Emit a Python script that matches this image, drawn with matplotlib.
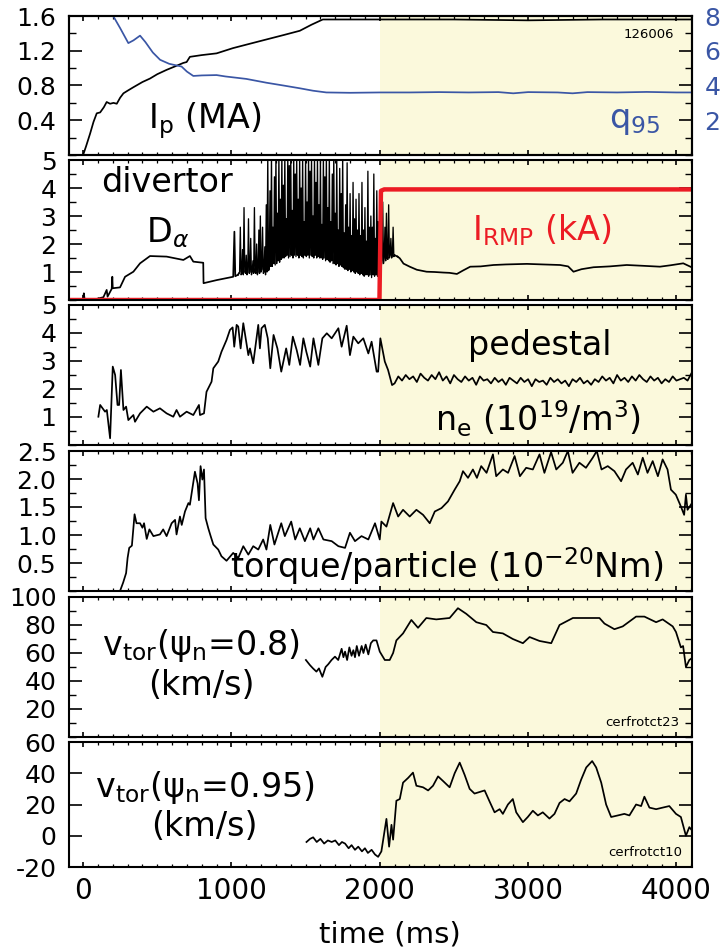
import numpy as np
import matplotlib.pyplot as plt
from matplotlib.ticker import MultipleLocator

# ---- data (time in ms) ----
ip_t = [-95, 0, 20, 47, 70, 92, 115, 140, 159, 182, 205, 227, 250, 272, 300, 339, 400,
        451, 500, 563, 620, 676, 698, 720, 760, 800, 900, 1010, 1100, 1236, 1350, 1461,
        1540, 1616, 1700, 2000, 2500, 3000, 3500, 4100]
ip = [0, 0, 0.1, 0.245, 0.38, 0.48, 0.49, 0.55, 0.61, 0.59, 0.6, 0.59, 0.66, 0.71, 0.74,
      0.78, 0.84, 0.88, 0.93, 0.98, 1.02, 1.06, 1.07, 1.13, 1.14, 1.15, 1.17, 1.23, 1.27,
      1.33, 1.38, 1.43, 1.5, 1.56, 1.56, 1.56, 1.56, 1.55, 1.56, 1.56]

q95_t = [150, 203, 250, 305, 340, 384, 420, 470, 519, 580, 664, 700, 743, 800, 900, 960,
         1010, 1100, 1236, 1350, 1461, 1550, 1640, 1800, 2000, 2200, 2400, 2600, 2800,
         2900, 3000, 3200, 3300, 3400, 3600, 3800, 4000, 4100]
q95 = [9.0, 8.0, 7.3, 6.44, 6.6, 6.87, 6.5, 5.9, 5.48, 5.25, 5.09, 4.8, 4.55, 4.58, 4.6,
       4.52, 4.47, 4.38, 4.16, 4.0, 3.84, 3.7, 3.6, 3.58, 3.6, 3.6, 3.62, 3.6, 3.62,
       3.55, 3.62, 3.6, 3.55, 3.62, 3.6, 3.63, 3.6, 3.6]

dalpha_early_t = [-95, 0, 5, 10, 92, 137, 159, 165, 193, 197, 200, 249, 283, 339, 384,
                  451, 563, 676, 720, 743, 810, 812, 900, 1012, 1020, 1026, 1044]
dalpha_early = [0.02, 0.02, 0.24, 0.03, 0.04, 0.1, 0.36, 0.12, 0.4, 0.83, 0.42, 0.45,
                0.83, 1.01, 1.31, 1.57, 1.55, 1.43, 1.57, 1.37, 1.33, 0.6, 0.71, 0.83,
                2.44, 0.85, 0.9]
# ELM phase, 5 ms sampling from 1050 to 2100 ms
dalpha_elm = [
    0.95, 1.0, 2.6, 0.9, 0.95, 1.8, 0.9, 3.3, 1.0, 0.95, 1.6, 0.9, 1.0, 2.9, 0.95, 1.0, 2.2, 0.9, 1.0, 1.4,
    0.95, 3.3, 1.0, 0.95, 2.0, 0.9, 1.0, 2.5, 0.95, 3.0, 1.0, 1.1, 2.6, 0.95, 1.0, 1.9, 0.9, 3.4, 1.0, 5.2,
    1.05, 1.1, 3.9, 1.2, 5.2, 1.2, 2.6, 1.3, 4.4, 1.25, 5.2, 1.3, 3.1, 1.4, 5.2, 1.35, 3.6, 1.45, 5.2, 1.5,
    4.1, 1.5, 5.2, 1.55, 2.9, 1.6, 5.2, 1.5, 4.8, 1.55, 5.2, 1.6, 3.2, 1.5, 5.2, 1.6, 4.5, 1.55, 5.2, 1.6,
    3.6, 1.5, 5.2, 1.6, 4.0, 1.55, 5.2, 1.5, 2.8, 1.6, 5.2, 1.55, 3.5, 1.6, 5.2, 1.5, 4.6, 1.6, 5.2, 1.55,
    3.0, 1.5, 5.2, 1.6, 4.2, 1.5, 5.2, 1.55, 3.4, 1.5, 5.2, 1.5, 2.7, 1.45, 5.2, 1.5, 4.4, 1.4, 5.2, 1.45,
    3.3, 1.4, 5.2, 1.35, 2.8, 1.4, 4.5, 1.3, 5.2, 1.3, 3.1, 1.25, 5.2, 1.3, 2.5, 1.2, 4.7, 1.25, 3.8, 1.2,
    5.2, 1.15, 2.4, 1.1, 3.4, 1.1, 4.9, 1.05, 2.6, 1.1, 3.8, 1.0, 2.3, 1.05, 4.2, 1.0, 2.9, 0.95, 3.6, 1.0,
    2.5, 0.95, 3.8, 0.9, 2.3, 0.95, 4.2, 0.9, 2.5, 0.85, 3.3, 0.9, 2.1, 0.9, 4.6, 0.85, 2.6, 0.9, 3.0, 0.8,
    2.6, 0.9, 4.5, 0.85, 2.2, 0.9, 3.9, 0.85, 2.8, 0.9, 1.3, 2.7, 1.2, 1.4, 3.5, 1.3, 1.5, 2.6, 1.4, 3.1,
    1.5, 1.45, 3.4, 1.5, 1.6, 2.2, 1.5, 1.6, 2.6, 1.55, 1.6]
dalpha_late_t = [2120, 2135, 2160, 2202, 2250, 2316, 2370, 2430, 2470, 2520, 2560, 2610,
                 2680, 2767, 2850, 2992, 3100, 3216, 3270, 3306, 3360, 3441, 3550, 3665,
                 3780, 3889, 3960, 4046, 4102]
dalpha_late = [1.55, 1.49, 1.3, 1.19, 1.08, 1.01, 1.0, 0.98, 0.97, 0.93, 1.05, 1.19,
               1.2, 1.25, 1.27, 1.29, 1.27, 1.25, 1.2, 1.01, 1.1, 1.17, 1.2, 1.25, 1.22,
               1.19, 1.24, 1.31, 1.17]

irmp_t = [-95, 1998, 2008, 2030, 4105]
irmp = [0, 0, 3.9, 3.95, 3.95]

ne_early_t = [103, 115, 148, 160, 182, 200, 216, 232, 243, 255, 272, 290, 305, 339, 350,
              384, 429, 474, 518, 563, 608, 630, 653, 698, 743, 781, 788, 815, 832, 866,
              878, 911, 933, 967, 990, 1008, 1019, 1035, 1046, 1062, 1080, 1114, 1125,
              1147, 1181, 1192, 1203, 1225, 1245, 1262, 1284, 1310, 1336, 1369, 1390,
              1414, 1440, 1463, 1485, 1505, 1531, 1553, 1586, 1613, 1643, 1676, 1721,
              1743, 1777, 1799, 1822, 1855, 1889, 1923, 1945, 1979, 1989, 2004, 2034,
              2056, 2083]
ne_early = [1.01, 1.43, 1.19, 1.25, 0.24, 2.8, 2.5, 1.43, 1.43, 2.68, 1.25, 1.37, 0.89,
            1.07, 0.83, 1.13, 1.37, 1.19, 1.31, 1.13, 1.01, 1.25, 1.01, 1.19, 1.07, 1.43,
            1.07, 1.13, 1.9, 2.26, 2.74, 2.98, 3.33, 3.75, 4.11, 4.2, 3.51, 4.29, 4.23,
            3.45, 4.35, 3.21, 3.45, 2.92, 4.29, 3.45, 4.17, 4.29, 3.81, 2.74, 3.93, 3.45,
            2.62, 3.45, 2.86, 3.87, 3.39, 2.86, 3.81, 3.33, 2.8, 3.81, 2.86, 3.81, 3.99,
            3.81, 4.17, 3.51, 4.26, 3.21, 3.87, 3.63, 3.81, 3.27, 3.69, 2.62, 2.62, 3.81,
            2.98, 2.68, 2.14]
# pedestal density after the RMP turn-on, 25 ms sampling starting at 2100 ms
ne_late = [2.2, 2.45, 2.3, 2.5, 2.35, 2.45, 2.25, 2.55, 2.4, 2.3, 2.5, 2.35, 2.6, 2.3,
           2.45, 2.2, 2.5, 2.35, 2.25, 2.45, 2.3, 2.4, 2.15, 2.45, 2.3, 2.35, 2.2, 2.4,
           2.25, 2.35, 2.15, 2.4, 2.3, 2.2, 2.4, 2.25, 2.35, 2.1, 2.35, 2.25, 2.3, 2.15,
           2.4, 2.25, 2.35, 2.2, 2.3, 2.1, 2.35, 2.25, 2.4, 2.2, 2.3, 2.15, 2.35, 2.25,
           2.45, 2.3, 2.4, 2.2, 2.5, 2.3, 2.4, 2.25, 2.45, 2.3, 2.5, 2.35, 2.25, 2.45,
           2.3, 2.4, 2.2, 2.35, 2.25, 2.45, 2.3, 2.35, 2.4, 2.3, 2.55]

torque_t = [249, 270, 290, 300, 311, 329, 347, 360, 384, 400, 411, 429, 447, 474, 518,
            540, 563, 597, 620, 630, 653, 665, 687, 710, 720, 754, 772, 781, 792, 804,
            815, 826, 844, 860, 878, 911, 933, 967, 1012, 1046, 1080, 1114, 1147, 1181,
            1214, 1236, 1262, 1290, 1336, 1360, 1403, 1430, 1461, 1495, 1531, 1553,
            1586, 1620, 1676, 1721, 1766, 1799, 1833, 1877, 1923, 1968, 2000, 2011, 2045,
            2090, 2124, 2157, 2202, 2247, 2292, 2337, 2371, 2416, 2460, 2505, 2539,
            2561, 2595, 2628, 2655, 2684, 2720, 2763, 2785, 2830, 2865, 2909, 2945,
            2987, 3032, 3077, 3110, 3155, 3190, 3234, 3268, 3300, 3346, 3390, 3436,
            3463, 3495, 3537, 3582, 3627, 3660, 3705, 3740, 3773, 3805, 3840, 3875,
            3907, 3940, 3963, 3996, 4030, 4052, 4064, 4075, 4100]
torque = [0.0, 0.15, 0.32, 0.59, 0.77, 0.81, 1.37, 1.21, 1.21, 1.13, 1.21, 0.93, 1.1,
          0.98, 1.01, 1.1, 0.98, 1.21, 1.27, 1.01, 1.33, 1.18, 1.42, 1.57, 1.54, 2.13,
          1.92, 1.62, 2.23, 1.99, 2.17, 1.3, 1.12, 0.98, 0.83, 0.74, 0.62, 0.54, 0.68,
          0.59, 0.8, 0.65, 0.8, 0.74, 0.92, 0.74, 1.18, 0.83, 1.21, 0.98, 1.24, 0.92,
          1.12, 0.89, 1.12, 0.92, 1.12, 0.92, 0.89, 0.8, 0.77, 1.04, 0.89, 0.98, 0.92,
          1.21, 0.92, 1.24, 1.15, 1.57, 1.33, 1.45, 1.33, 1.45, 1.36, 1.21, 1.42, 1.48,
          1.6, 1.81, 1.96, 2.14, 2.02, 2.17, 2.02, 2.23, 2.11, 2.44, 2.05, 2.17, 2.11,
          2.41, 2.05, 2.2, 2.17, 2.44, 2.11, 2.48, 2.17, 2.29, 2.5, 2.11, 2.29, 2.2,
          2.38, 2.5, 2.17, 2.23, 2.14, 1.96, 2.17, 2.29, 2.08, 2.38, 2.11, 2.32, 2.05,
          2.35, 2.17, 1.81, 1.72, 1.51, 1.36, 1.72, 1.45, 1.55]

v08_t = [1502, 1529, 1550, 1573, 1590, 1613, 1635, 1653, 1675, 1698, 1720, 1743, 1755,
         1766, 1780, 1795, 1810, 1822, 1833, 1845, 1860, 1878, 1890, 1905, 1923, 1940,
         1956, 1978, 2000, 2034, 2067, 2090, 2112, 2157, 2213, 2258, 2314, 2381, 2471,
         2527, 2583, 2651, 2718, 2763, 2830, 2897, 2965, 3010, 3077, 3156, 3212, 3302,
         3392, 3481, 3515, 3582, 3638, 3728, 3784, 3863, 3907, 3975, 3997, 4030, 4045,
         4064, 4087, 4100]
v08 = [55, 51.4, 49, 46.7, 49, 43, 50, 52, 55, 57.4, 55, 63, 57, 61, 55, 64, 58, 62, 57,
       65, 58, 65, 60, 66, 59, 67, 69, 69, 61, 55, 55, 60, 69, 74, 83.6, 78, 85, 84, 85,
       92, 88, 82, 80, 75, 74, 70, 67, 71.4, 68.6, 67, 80, 85, 85, 85, 81, 77, 79, 86,
       86, 82, 84, 79, 75, 64, 65, 50, 55, 56]

v095_t = [1506, 1530, 1551, 1575, 1600, 1625, 1650, 1676, 1700, 1725, 1745, 1766, 1790,
          1810, 1833, 1855, 1880, 1900, 1920, 1945, 1968, 1989, 2011, 2045, 2063, 2079,
          2090, 2112, 2135, 2157, 2191, 2224, 2247, 2292, 2326, 2359, 2393, 2427, 2471,
          2505, 2539, 2572, 2606, 2639, 2673, 2707, 2740, 2774, 2808, 2830, 2864, 2897,
          2920, 2965, 2998, 3032, 3066, 3099, 3144, 3178, 3212, 3246, 3279, 3324, 3358,
          3392, 3432, 3459, 3493, 3526, 3560, 3605, 3649, 3683, 3728, 3762, 3784, 3818,
          3863, 3907, 3952, 3997, 4030, 4064, 4087, 4100]
v095 = [-4, -2, -1, -4, -2, -5, -3, -4, -3, -6, -4, -5, -8, -6, -9, -7, -10, -8, -11,
        -9, -12, -13.5, -10, 10.8, -7, 7, -2.5, 22.4, 23.5, 34, 37, 40.4, 32, 31, 29, 32,
        38, 35, 31, 40, 46.8, 39, 30, 27, 28, 29, 22, 15, 17, 14, 20, 23.5, 15, 8.7, 12,
        16, 13, 15, 11, 14, 21, 23.5, 22, 27, 36, 43.7, 47.8, 43.7, 34, 20, 12, 13, 14,
        13, 20, 19, 25, 18, 17, 18, 19, 14, 12, 0, 5.5, 4]

# ---- figure ----
W, H = 724, 947
fig = plt.figure(figsize=(W / 100, H / 100), dpi=100)

XLIM = (-95, 4105)
SHADE = "#fbf9dc"
BLUE = "#3a56a5"
RED = "#ec1c24"
LW = 1.25
FS_TXT = 24   # in-panel labels
FS_TICK = 18

# pixel boxes (top, bottom) of the six stacked panels
boxes = [(16, 155), (160, 300), (305, 445), (451, 591), (597, 737), (742, 867)]
ylims = [(0, 1.6), (0, 5), (0, 5), (0, 2.5), (0, 100), (-20, 60)]
majors = [[0.4, 0.8, 1.2, 1.6], [1, 2, 3, 4, 5], [1, 2, 3, 4, 5],
          [0.5, 1.0, 1.5, 2.0, 2.5], [20, 40, 60, 80, 100], [-20, 0, 20, 40, 60]]
minors = [0.2, 0.5, 0.5, 0.25, 10, 20]
ylabfmt = ["{:.1f}", "{:g}", "{:g}", "{:.1f}", "{:g}", "{:g}"]

axes = []
for i, (top, bot) in enumerate(boxes):
    ax = fig.add_axes([69 / W, 1 - bot / H, (692 - 69) / W, (bot - top) / H])
    ax.set_xlim(*XLIM)
    ax.set_ylim(*ylims[i])
    ax.axvspan(2000, XLIM[1], color=SHADE, lw=0, zorder=0)
    ax.set_yticks(majors[i])
    ax.set_yticklabels([ylabfmt[i].format(v) for v in majors[i]])
    ax.yaxis.set_minor_locator(MultipleLocator(minors[i]))
    ax.set_xticks([0, 1000, 2000, 3000, 4000])
    ax.xaxis.set_minor_locator(MultipleLocator(100))
    ax.tick_params(axis="y", which="major", direction="in", length=9.5, width=1.2,
                   labelsize=FS_TICK, pad=9, right=(i != 0))
    ax.tick_params(axis="y", which="minor", direction="in", length=5, width=1.0,
                   right=(i != 0))
    ax.tick_params(axis="x", which="major", direction="in", length=3.8, width=1.2,
                   top=True, labelsize=20, pad=7)
    ax.tick_params(axis="x", which="minor", direction="in", length=2, width=0.9,
                   top=True)
    if i < 5:
        ax.tick_params(axis="x", labelbottom=False)
    for s in ax.spines.values():
        s.set_linewidth(1.5)
    axes.append(ax)

# panel 1: plasma current and q95
ax = axes[0]
ax.plot(ip_t, ip, color="black", lw=LW)
ax.text(821, 0.31, r"I$_\mathrm{p}$ (MA)", fontsize=FS_TXT, ha="center", va="baseline")
ax.text(3985, 1.39, "126006", fontsize=9.5, ha="right", va="center")
axq = ax.twinx()
axq.set_ylim(0, 8)
axq.set_yticks([2, 4, 6, 8])
axq.yaxis.set_minor_locator(MultipleLocator(1))
axq.tick_params(axis="y", which="major", direction="in", length=9.5, width=1.2,
                labelsize=FS_TICK, pad=9, labelcolor=BLUE)
axq.tick_params(axis="y", which="minor", direction="in", length=5, width=1.0)
for s in axq.spines.values():
    s.set_linewidth(1.5)
axq.plot(q95_t, q95, color=BLUE, lw=LW)
axq.text(3717, 1.55, r"q$_{95}$", fontsize=FS_TXT, color=BLUE, ha="center", va="baseline")

# panel 2: divertor D-alpha and coil current
ax = axes[1]
elm_t = 1050 + 5 * np.arange(len(dalpha_elm))
ax.plot(dalpha_early_t, dalpha_early, color="black", lw=LW)
ax.plot(elm_t, dalpha_elm, color="black", lw=0.95)
ax.plot(dalpha_late_t, dalpha_late, color="black", lw=LW)
ax.plot([dalpha_early_t[-1], elm_t[0]], [dalpha_early[-1], dalpha_elm[0]], color="black", lw=LW)
ax.plot([elm_t[-1], dalpha_late_t[0]], [dalpha_elm[-1], dalpha_late[0]], color="black", lw=LW)
ax.plot(irmp_t, irmp, color=RED, lw=3.2, solid_capstyle="butt")
ax.text(565, 3.86, "divertor", fontsize=FS_TXT, ha="center", va="baseline")
ax.text(570, 2.07, r"D$_\alpha$", fontsize=FS_TXT, ha="center", va="baseline")
ax.text(3090, 2.14, r"I$_\mathrm{RMP}$ (kA)", fontsize=FS_TXT, color=RED, ha="center",
        va="baseline")

# panel 3: pedestal density
ax = axes[2]
ne_late_t = 2100 + 25 * np.arange(len(ne_late))
ax.plot(list(ne_early_t) + list(ne_late_t), list(ne_early) + list(ne_late),
        color="black", lw=LW)
ax.text(3078, 3.21, "pedestal", fontsize=FS_TXT, ha="center", va="baseline")
ax.text(3065, 0.48, r"n$_\mathrm{e}$ (10$^{19}$/m$^3$)", fontsize=FS_TXT, ha="center",
        va="baseline")

# panel 4: torque per particle
ax = axes[3]
ax.plot(torque_t, torque, color="black", lw=LW)
ax.text(2450, 0.23, r"torque/particle (10$^{-20}$Nm)", fontsize=FS_TXT, ha="center",
        va="baseline")

# panel 5: toroidal rotation at psi_n = 0.8
ax = axes[4]
ax.plot(v08_t, v08, color="black", lw=LW)
ax.text(795, 58.6, r"v$_\mathrm{tor}$(ψ$_\mathrm{n}$=0.8)", fontsize=FS_TXT,
        ha="center", va="baseline")
ax.text(795, 30, "(km/s)", fontsize=FS_TXT, ha="center", va="baseline")
ax.text(4020, 10, "cerfrotct23", fontsize=9.5, ha="right", va="center")

# panel 6: toroidal rotation at psi_n = 0.95
ax = axes[5]
ax.plot(v095_t, v095, color="black", lw=LW)
ax.text(820, 24.8, r"v$_\mathrm{tor}$(ψ$_\mathrm{n}$=0.95)", fontsize=FS_TXT,
        ha="center", va="baseline")
ax.text(815, 0, "(km/s)", fontsize=FS_TXT, ha="center", va="baseline")
ax.text(4040, -11, "cerfrotct10", fontsize=9.5, ha="right", va="center")
ax.set_xlabel("time (ms)", fontsize=21, labelpad=11)
ax.xaxis.label.set_x(0.515)

fig.savefig("out.png", dpi=100)
